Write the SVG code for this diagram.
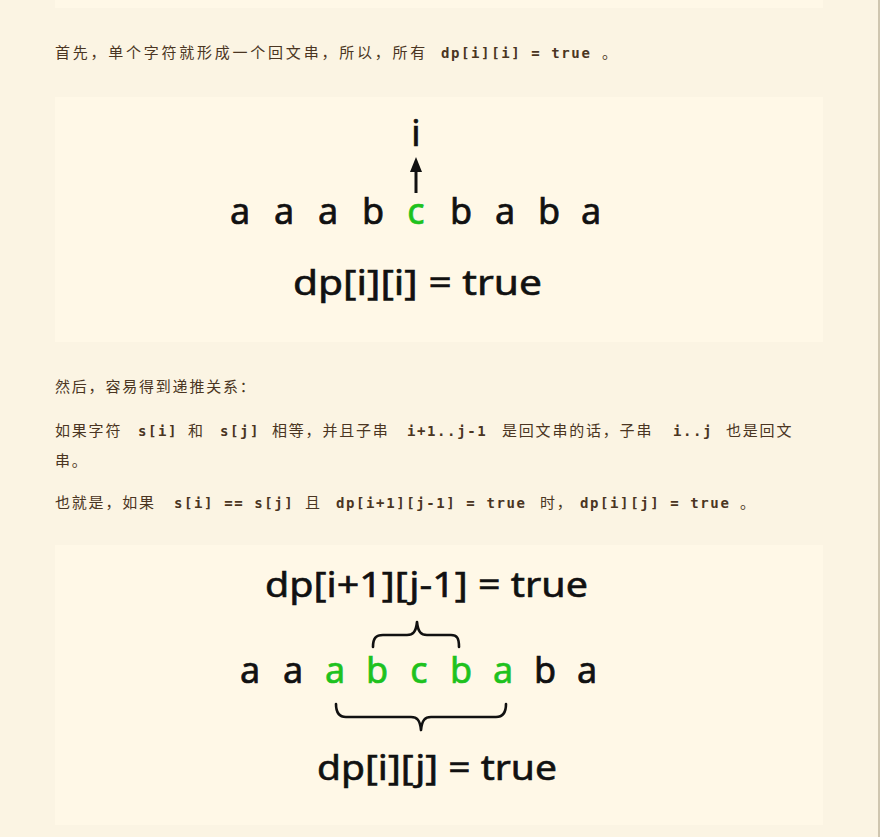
<svg xmlns="http://www.w3.org/2000/svg" width="880" height="837" viewBox="0 0 880 837">
<style>
.bg{fill:#fbf4e3}
.panel{fill:#fff8e7}
.cjk{font-family:"Noto Sans CJK SC","Noto Sans",sans-serif;font-size:15px;letter-spacing:1.8px;fill:#4a3522}
.code{font-family:"DejaVu Sans Mono","Liberation Mono",monospace;font-size:14px;font-weight:bold;letter-spacing:1.6px;fill:#4a3522}
.ch{font-family:"Noto Sans","DejaVu Sans",sans-serif;font-size:36px;font-weight:400;text-anchor:middle;fill:#111;stroke:#111;stroke-width:0.7}
.ch.g{fill:#1ec21e;stroke:#1ec21e}
.fm{font-family:"Noto Sans","DejaVu Sans",sans-serif;font-size:35px;font-weight:400;fill:#111;stroke:#111;stroke-width:0.6}
.br{fill:none;stroke:#111;stroke-width:2.6;stroke-linecap:round;stroke-linejoin:round}
</style>
<rect class="bg" x="0" y="0" width="880" height="837"/>
<rect x="878" y="0" width="2" height="837" fill="#cfc6b0"/>
<rect class="panel" x="55" y="0" width="768" height="8"/>
<rect class="panel" x="55" y="97" width="768" height="245"/>
<rect class="panel" x="55" y="545" width="768" height="280"/>

<g id="para1">
<text class="cjk" x="55" y="58" textLength="372" lengthAdjust="spacing">首先，单个字符就形成一个回文串，所以，所有</text>
<text class="code" x="441" y="58">dp[i][i] = true</text>
<text class="cjk" x="602" y="58">。</text>
</g>

<g id="diagram1">
<g id="label-i"><text class="ch" x="416" y="146">i</text></g>
<g id="row1">
<text class="ch" x="240" y="224">a</text>
<text class="ch" x="284" y="224">a</text>
<text class="ch" x="328" y="224">a</text>
<text class="ch" x="373" y="224">b</text>
<text class="ch g" x="416" y="224">c</text>
<text class="ch" x="461" y="224">b</text>
<text class="ch" x="505" y="224">a</text>
<text class="ch" x="549" y="224">b</text>
<text class="ch" x="591" y="224">a</text>
</g>
<g id="formula1"><text class="fm" x="293" y="295" textLength="249" lengthAdjust="spacingAndGlyphs">dp[i][i] = true</text></g>
</g>

<g id="para2">
<text class="cjk" x="55" y="392">然后，容易得到递推关系：</text>
<text class="cjk" x="55" y="436">如果字符</text>
<text class="code" x="138" y="436">s[i]</text>
<text class="cjk" x="188" y="436">和</text>
<text class="code" x="220" y="436">s[j]</text>
<text class="cjk" x="272" y="436">相等，并且子串</text>
<text class="code" x="407" y="436">i+1..j-1</text>
<text class="cjk" x="502" y="436">是回文串的话，子串</text>
<text class="code" x="673" y="436">i..j</text>
<text class="cjk" x="726" y="436">也是回文</text>
<text class="cjk" x="55" y="466">串。</text>
<text class="cjk" x="55" y="508">也就是，如果</text>
<text class="code" x="174" y="508">s[i] == s[j]</text>
<text class="cjk" x="305" y="508">且</text>
<text class="code" x="336" y="508">dp[i+1][j-1] = true</text>
<text class="cjk" x="540" y="508">时，</text>
<text class="code" x="580" y="508">dp[i][j] = true</text>
<text class="cjk" x="740" y="508">。</text>
</g>

<g id="diagram2">
<g id="formula-inner"><text class="fm" x="265" y="597" textLength="323" lengthAdjust="spacingAndGlyphs">dp[i+1][j-1] = true</text></g>
<g id="row2">
<text class="ch" x="250" y="683">a</text>
<text class="ch" x="293" y="683">a</text>
<text class="ch g" x="335" y="683">a</text>
<text class="ch g" x="377" y="683">b</text>
<text class="ch g" x="419" y="683">c</text>
<text class="ch g" x="461" y="683">b</text>
<text class="ch g" x="503" y="683">a</text>
<text class="ch" x="545" y="683">b</text>
<text class="ch" x="587" y="683">a</text>
</g>
<g id="formula-outer"><text class="fm" x="317" y="780" textLength="240" lengthAdjust="spacingAndGlyphs">dp[i][j] = true</text></g>
</g>

<g id="connectors">
<line x1="416" y1="193" x2="416" y2="170" stroke="#111" stroke-width="3"/>
<polygon points="416,157 410,172 422,172" fill="#111"/>
<path class="br" d="M373,647 C373,638 376,635 383,635 L407,635 C413,635 416,632 417,622 C418,632 421,635 427,635 L451,635 C457,635 459,638 459,647"/>
<path class="br" d="M336,704 C336,713 339,717 346,717 L411,717 C417,717 420,720 421,730 C422,720 425,717 431,717 L496,717 C503,717 506,713 506,704"/>
</g>
</svg>
